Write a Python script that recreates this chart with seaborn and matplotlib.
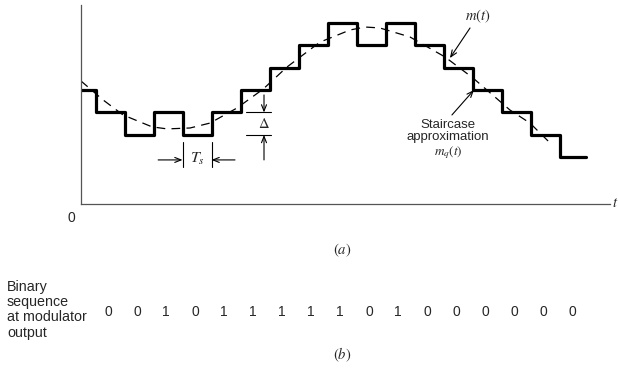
import numpy as np
import seaborn as sns
import matplotlib.pyplot as plt

# binary sequence at the modulator output (one bit per sampling instant)
bits = [0, 0, 1, 0, 1, 1, 1, 1, 1, 0, 1, 0, 0, 0, 0, 0, 0]
start_level = 5          # staircase level before the first sample (in units of delta)
first_edge = 0.5         # first sampling instant (in units of Ts)
end_time = 17.4          # where the staircase stops

# m(t) (t in units of Ts, amplitude in units of delta)
m_t = [0.0, 0.76, 1.45, 2.45, 2.97, 3.76, 4.45, 5.38, 6.28, 7.1, 8.24, 9.28,
       9.8, 10.3, 11.34, 12.55, 13.52, 14.79, 15.48, 16.24]
m_v = [5.4, 4.56, 3.89, 3.36, 3.27, 3.31, 3.53, 4.2, 5.04, 6.02, 7.13, 7.67,
       7.8, 7.76, 7.36, 6.47, 5.53, 4.11, 3.53, 2.56]

sns.set_style("white")
plt.rcParams["font.family"] = ["Liberation Sans", "DejaVu Sans"]
plt.rcParams["mathtext.fontset"] = "stix"

edges = first_edge + np.arange(len(bits))
levels = start_level + np.cumsum(2 * np.array(bits) - 1)
stair_t = np.concatenate([[0], edges, [end_time]])
stair_v = np.concatenate([[start_level], levels, [levels[-1]]])

fig = plt.figure(figsize=(6.18, 3.72), dpi=100)
ax = fig.add_axes([81 / 618, 1 - 204 / 372, 529 / 618, 199 / 372])

sns.lineplot(x=m_t, y=m_v, color="black", lw=0.9, linestyle=(0, (7, 5)),
             sort=False, estimator=None, ax=ax)
sns.lineplot(x=stair_t, y=stair_v, color="black", lw=2.3, drawstyle="steps-post",
             sort=False, estimator=None, ax=ax)

ax.set_xlim(0, 18.24)
ax.set_ylim(-0.07, 8.78)
ax.set_xticks([])
ax.set_yticks([])
ax.set_xlabel("")
ax.set_ylabel("")
for s in ["top", "right"]:
    ax.spines[s].set_visible(False)
for s in ["left", "bottom"]:
    ax.spines[s].set_color("#555555")
    ax.spines[s].set_linewidth(0.9)

arr = dict(arrowstyle="->,head_length=0.45,head_width=0.18", color="black", lw=0.8,
           shrinkA=0, shrinkB=0)

# Ts marker between two sampling instants
t1, t2 = edges[3], edges[4]
for tt in (t1, t2):
    ax.plot([tt, tt], [1.58, 2.69], color="black", lw=0.8)
ax.annotate("", xy=(t1, 1.89), xytext=(t1 - 0.84, 1.89), arrowprops=arr)
ax.annotate("", xy=(t2, 1.89), xytext=(t2 + 0.81, 1.89), arrowprops=arr)
ax.text((t1 + t2) / 2, 1.93, r"$T_s$", ha="center", va="center", fontsize=11.5)

# delta marker
lo, hi = levels[3], levels[4]
ax.plot([5.69, 6.55], [hi, hi], color="black", lw=0.8)
ax.plot([5.69, 6.55], [lo, lo], color="black", lw=0.8)
ax.annotate("", xy=(6.31, hi), xytext=(6.31, hi + 0.78), arrowprops=arr)
ax.annotate("", xy=(6.31, lo), xytext=(6.31, lo - 1.11), arrowprops=arr)
ax.text(6.31, (lo + hi) / 2, r"$\Delta$", ha="center", va="center", fontsize=10.5)

# labels for the two curves
ax.annotate(r"$m(t)$", xy=(12.72, 6.42), xytext=(13.69, 8.29), ha="center",
            va="center", fontsize=10.5, arrowprops=arr, annotation_clip=False)
ax.annotate("", xy=(13.55, levels[13]), xytext=(12.79, 3.89), arrowprops=arr)
ax.text(12.66, 2.78, "Staircase\napproximation\n$m_q(t)$", ha="center", va="center",
        fontsize=9.5, linespacing=1.1)

ax.text(-0.34, -0.69, "0", ha="center", va="center", fontsize=10, clip_on=False)
ax.text(18.41, -0.02, r"$t$", ha="center", va="center", fontsize=10.5, clip_on=False)
ax.text(9.0, -2.11, r"$(a)$", ha="center", va="center", fontsize=10.5, clip_on=False)

# binary sequence row
ax.text(-2.55, -4.78, "Binary\nsequence\nat modulator\noutput", ha="left",
        va="center", fontsize=10.3, linespacing=1.1, clip_on=False)
for tt, b in zip(edges, bits):
    ax.text(tt + 0.43, -4.87, str(b), ha="center", va="center", fontsize=10,
            clip_on=False)
ax.text(9.0, -6.78, r"$(b)$", ha="center", va="center", fontsize=10.5, clip_on=False)

fig.savefig("out.png", dpi=100)
